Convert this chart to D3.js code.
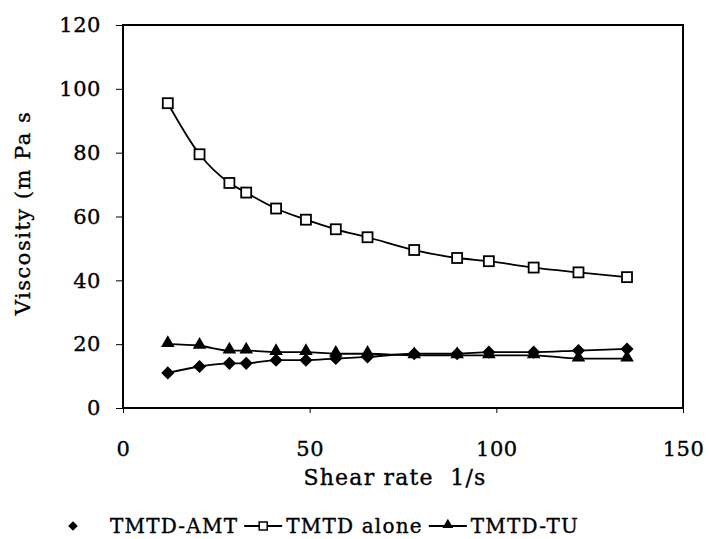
<!DOCTYPE html>
<html>
<head>
<meta charset="utf-8">
<script src="https://cdn.jsdelivr.net/npm/d3@7/dist/d3.min.js"></script>
<style>
  html, body { margin: 0; padding: 0; background: #fff; }
  svg { display: block; }
  text { font-family: "DejaVu Serif", serif; fill: #000; stroke: #000; stroke-width: 0.35px; }
</style>
</head>
<body>
<svg id="chart" width="709" height="539"></svg>
<script>
// ---- data ----
const shearRate = [12, 20.5, 28.5, 33, 41, 49, 57, 65.5, 78, 89.5, 98, 110, 122, 135];
const tmtdAlone = [95.5, 79.5, 70.5, 67.5, 62.5, 59, 56, 53.5, 49.5, 47, 46, 44, 42.5, 41];
const tmtdAmt   = [11, 13, 14, 14, 15, 15, 15.5, 16, 17, 17, 17.5, 17.5, 18, 18.5];
const tmtdTu    = [20, 19.5, 18, 18, 17.5, 17.5, 17, 17, 16.5, 16.5, 16.5, 16.5, 15.5, 15.5];
const xTicks = [0, 50, 100, 150];
const yTicks = [0, 20, 40, 60, 80, 100, 120];
const seriesNames = ["TMTD-AMT", "TMTD alone", "TMTD-TU"];
const xTitle = "Shear rate  1/s";
const yTitle = "Viscosity (m Pa s";

// ---- layout ----
const svg = d3.select("#chart");
const L = 123, R = 683, T = 25, B = 408;
const x = d3.scaleLinear().domain([0, 150]).range([L, R]);
const y = d3.scaleLinear().domain([0, 120]).range([B, T]);

// frame
svg.append("rect").attr("x", L).attr("y", T).attr("width", R - L).attr("height", B - T)
  .attr("fill", "none").attr("stroke", "#000").attr("stroke-width", 2);

// axes
const yAxis = d3.axisLeft(y).tickValues(yTicks).tickSize(7).tickPadding(13);
const gy = svg.append("g").attr("transform", `translate(${L},0)`).call(yAxis);
gy.select(".domain").remove();
gy.selectAll("line").attr("stroke", "#000").attr("stroke-width", 1);
gy.selectAll("text").style("font-size", "21px").style("letter-spacing", "0.5px").attr("dx", "-0.1em");

const xAxis = d3.axisBottom(x).tickValues(xTicks).tickSize(5).tickPadding(28);
const gx = svg.append("g").attr("transform", `translate(0,${B})`).call(xAxis);
gx.select(".domain").remove();
gx.selectAll("line").attr("stroke", "#000").attr("stroke-width", 1);
gx.selectAll("text").style("font-size", "21px").style("letter-spacing", "0.5px");

// titles
svg.append("text").attr("x", 395).attr("y", 485).attr("text-anchor", "middle")
  .style("font-size", "22px").style("letter-spacing", "1.2px").style("white-space", "pre")
  .attr("xml:space", "preserve").text(xTitle);
svg.append("text").attr("transform", `translate(30,213) rotate(-90)`).attr("text-anchor", "middle")
  .style("font-size", "21px").style("letter-spacing", "1.5px").text(yTitle);

// lines
const line = d3.line().x(d => x(d[0])).y(d => y(d[1])).curve(d3.curveMonotoneX);
const zip = vals => shearRate.map((s, i) => [s, vals[i]]);
const amtPts = zip(tmtdAmt), alonePts = zip(tmtdAlone), tuPts = zip(tmtdTu);

[amtPts, tuPts, alonePts].forEach(pts => {
  svg.append("path").attr("d", line(pts)).attr("fill", "none")
    .attr("stroke", "#000").attr("stroke-width", 1.8);
});

// markers
svg.append("g").selectAll("path").data(amtPts).join("path")
  .attr("transform", d => `translate(${x(d[0])},${y(d[1])})`)
  .attr("d", d3.symbol().type(d3.symbolDiamond2).size(110)).attr("fill", "#000");
svg.append("g").selectAll("path").data(tuPts).join("path")
  .attr("transform", d => `translate(${x(d[0])},${y(d[1]) - 1})`)
  .attr("d", d3.symbol().type(d3.symbolTriangle).size(80)).attr("fill", "#000");
svg.append("g").selectAll("rect").data(alonePts).join("rect")
  .attr("x", d => x(d[0]) - 5).attr("y", d => y(d[1]) - 5).attr("width", 10).attr("height", 10)
  .attr("fill", "#fff").attr("stroke", "#000").attr("stroke-width", 1.8);

// legend
const ly = 526;
const lg = svg.append("g");
lg.append("path").attr("transform", `translate(73,${ly})`)
  .attr("d", d3.symbol().type(d3.symbolDiamond2).size(60)).attr("fill", "#000");
let cx = 110;
function addText(t) {
  const el = lg.append("text").attr("x", cx).attr("y", ly + 7)
    .style("font-size", "20px").style("letter-spacing", "1.2px").text(t);
  cx += el.node().getComputedTextLength();
}
function addLineSym(kind) {
  const x0 = cx + 6, x1 = cx + 44;
  lg.append("line").attr("x1", x0).attr("x2", x1).attr("y1", ly).attr("y2", ly)
    .attr("stroke", "#000").attr("stroke-width", 1.8);
  const mx = (x0 + x1) / 2;
  if (kind === "square") {
    lg.append("rect").attr("x", mx - 4).attr("y", ly - 4).attr("width", 8).attr("height", 8)
      .attr("fill", "#fff").attr("stroke", "#000").attr("stroke-width", 1.5);
  } else {
    lg.append("path").attr("transform", `translate(${mx},${ly - 1})`)
      .attr("d", d3.symbol().type(d3.symbolTriangle).size(50)).attr("fill", "#000");
  }
  cx = x1 + 4;
}
addText(seriesNames[0]);
addLineSym("square");
addText(seriesNames[1]);
addLineSym("triangle");
addText(seriesNames[2]);
</script>
</body>
</html>
